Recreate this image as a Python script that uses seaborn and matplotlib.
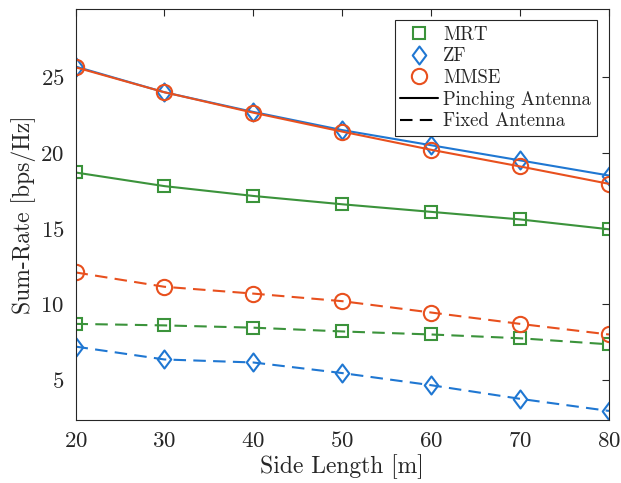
import numpy as np
import pandas as pd
import matplotlib
matplotlib.use("Agg")
import matplotlib.pyplot as plt
from matplotlib.path import Path
from matplotlib.lines import Line2D
import seaborn as sns

side_length = [20, 30, 40, 50, 60, 70, 80]
mrt_pinching = [18.7, 17.8, 17.15, 16.6, 16.1, 15.6, 14.95]
zf_pinching = [25.7, 24.0, 22.7, 21.5, 20.5, 19.5, 18.5]
mmse_pinching = [25.65, 24.0, 22.65, 21.4, 20.2, 19.1, 17.95]
mrt_fixed = [8.7, 8.6, 8.45, 8.2, 8.0, 7.75, 7.35]
zf_fixed = [7.2, 6.35, 6.15, 5.45, 4.65, 3.75, 2.95]
mmse_fixed = [12.1, 11.15, 10.7, 10.2, 9.45, 8.7, 8.0]

sns.set_theme(style="white")
plt.rcParams["font.family"] = ["cmr10", "DejaVu Serif"]
plt.rcParams["mathtext.fontset"] = "cm"
plt.rcParams["axes.formatter.use_mathtext"] = True

c_green = "#3b933b"
c_blue = "#1f77d2"
c_red = "#e8501e"

diamond = Path([(0, 1), (0.75, 0), (0, -1), (-0.75, 0), (0, 1)],
               [Path.MOVETO, Path.LINETO, Path.LINETO, Path.LINETO, Path.CLOSEPOLY])
dash_style = (0, (6, 3.5))

fig = plt.figure(figsize=(6.21, 4.83), dpi=100)
ax = fig.add_axes([0.1216, 0.1304, 0.859, 0.851])

series = [
    (mrt_pinching, c_green, "s", 9, "-"),
    (zf_pinching, c_blue, diamond, 13, "-"),
    (mmse_pinching, c_red, "o", 11, "-"),
    (mrt_fixed, c_green, "s", 9, dash_style),
    (zf_fixed, c_blue, diamond, 13, dash_style),
    (mmse_fixed, c_red, "o", 11, dash_style),
]
for vals, col, mk, ms, ls in series:
    df = pd.DataFrame({"x": side_length, "y": vals})
    sns.lineplot(data=df, x="x", y="y", ax=ax, color=col, lw=1.5, linestyle=ls,
                 marker=mk, markersize=ms, markerfacecolor="none",
                 markeredgecolor=col, markeredgewidth=1.5)

ax.set_xlim(20, 80)
ax.set_ylim(2.35, 29.5)
ax.set_xticks([20, 30, 40, 50, 60, 70, 80])
ax.set_yticks([5, 10, 15, 20, 25])
ax.tick_params(direction="in", length=5, width=0.8, top=True, right=True,
               labelsize=16.5, colors="#262626", pad=8)
for s in ax.spines.values():
    s.set_color("#262626")
    s.set_linewidth(0.8)
ax.set_xlabel("Side Length [m]", fontsize=17, color="#262626", labelpad=2)
ax.set_ylabel("Sum-Rate [bps/Hz]", fontsize=17, color="#262626", labelpad=3)

handles = [
    Line2D([], [], ls="none", marker="s", ms=9, mfc="none", mec=c_green, mew=1.5, label="MRT"),
    Line2D([], [], ls="none", marker=diamond, ms=13, mfc="none", mec=c_blue, mew=1.5, label="ZF"),
    Line2D([], [], ls="none", marker="o", ms=11, mfc="none", mec=c_red, mew=1.5, label="MMSE"),
    Line2D([], [], color="black", lw=1.5, ls="-", label="Pinching Antenna"),
    Line2D([], [], color="black", lw=1.5, ls=dash_style, label="Fixed Antenna"),
]
leg = ax.legend(handles=handles, loc="upper right", bbox_to_anchor=(0.9775, 0.973),
                fontsize=13.5, frameon=True, fancybox=False, framealpha=1,
                edgecolor="#262626", handlelength=2.0, handletextpad=0.3,
                borderpad=0.3, labelspacing=0.2, borderaxespad=0)
leg.get_frame().set_linewidth(0.8)

fig.savefig("out.png", dpi=100)
